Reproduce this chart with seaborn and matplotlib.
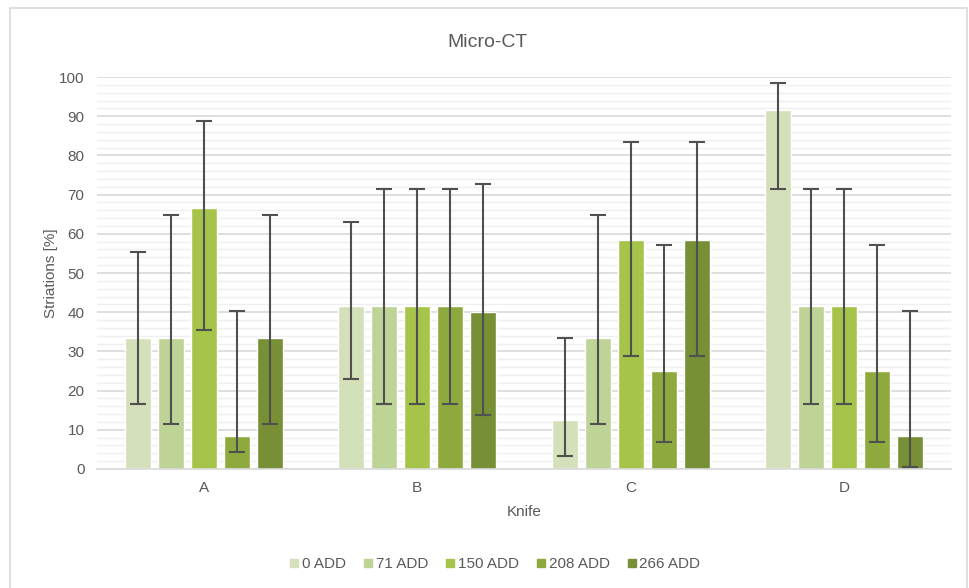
import matplotlib
matplotlib.use("Agg")
import matplotlib.pyplot as plt
import seaborn as sns
import pandas as pd
import numpy as np
from matplotlib.patches import Rectangle
from matplotlib.lines import Line2D

knives = ["A", "B", "C", "D"]
series = ["0 ADD", "71 ADD", "150 ADD", "208 ADD", "266 ADD"]
colors = ["#d4e0b9", "#bed396", "#a6c44a", "#8eaa3e", "#778f35"]

values = {
    "0 ADD":   [33.3, 41.7, 12.5, 91.7],
    "71 ADD":  [33.3, 41.7, 33.3, 41.7],
    "150 ADD": [66.7, 41.7, 58.3, 41.7],
    "208 ADD": [8.3, 41.7, 25.0, 25.0],
    "266 ADD": [33.3, 40.0, 58.3, 8.3],
}
lower = {
    "0 ADD":   [16.7, 22.9, 3.3, 71.4],
    "71 ADD":  [11.5, 16.6, 11.5, 16.6],
    "150 ADD": [35.4, 16.6, 28.9, 16.6],
    "208 ADD": [4.4, 16.6, 6.8, 6.8],
    "266 ADD": [11.5, 13.8, 28.9, 0.6],
}
upper = {
    "0 ADD":   [55.4, 63.1, 33.4, 98.5],
    "71 ADD":  [64.8, 71.4, 64.8, 71.4],
    "150 ADD": [88.7, 71.4, 83.5, 71.4],
    "208 ADD": [40.3, 71.4, 57.2, 57.2],
    "266 ADD": [64.8, 72.6, 83.5, 40.3],
}

rows = []
for s in series:
    for i, k in enumerate(knives):
        rows.append({"Knife": k, "Series": s, "Value": values[s][i],
                     "Lo": lower[s][i], "Hi": upper[s][i]})
df = pd.DataFrame(rows)

sns.set_theme(style="white")
plt.rcParams["font.family"] = ["Liberation Sans", "DejaVu Sans"]
text_color = "#595959"

fig = plt.figure(figsize=(9.69, 5.88), dpi=100)
ax = fig.add_axes([0.1001, 0.2024, 0.8813, 0.6666])

sns.barplot(data=df, x="Knife", y="Value", hue="Series", hue_order=series,
            order=knives, palette=colors, width=0.773, gap=0.21,
            errorbar=None, legend=False, ax=ax, saturation=1)

# error bars
for s, cont in zip(series, ax.containers):
    sub = df[df["Series"] == s].set_index("Knife").loc[knives]
    xs = [p.get_x() + p.get_width() / 2 for p in cont.patches]
    ys = sub["Value"].values
    yerr = np.vstack([ys - sub["Lo"].values, sub["Hi"].values - ys])
    ax.errorbar(xs, ys, yerr=yerr, fmt="none", ecolor="#505050",
                elinewidth=1.5, capsize=6, capthick=1.5, zorder=5)

ax.set_xlim(-0.5, 3.5)
ax.set_ylim(0, 100)
ax.set_yticks(np.arange(0, 101, 10))
ax.set_yticks(np.arange(0, 101, 2), minor=True)
ax.grid(axis="y", which="major", color="#d9d9d9", linewidth=1.2, zorder=0)
ax.grid(axis="y", which="minor", color="#efefef", linewidth=1.0, zorder=0)
ax.set_axisbelow(True)
for sp in ["top", "right", "left"]:
    ax.spines[sp].set_visible(False)
ax.spines["bottom"].set_color("#d9d9d9")
ax.spines["bottom"].set_linewidth(1.2)
ax.tick_params(axis="both", which="both", length=0, colors=text_color,
               labelsize=11)
ax.tick_params(axis="y", pad=9)
ax.tick_params(axis="x", pad=9)

ax.set_xlabel("Knife", color=text_color, fontsize=11, labelpad=7)
ax.set_ylabel("Striations [%]", color=text_color, fontsize=11, labelpad=1)
fig.text(0.503, 0.928, "Micro-CT", ha="center", va="center",
         color=text_color, fontsize=14)

handles = [Line2D([0], [0], marker="s", linestyle="none", markersize=5.5,
                  markerfacecolor=c, markeredgecolor=c) for c in colors]
fig.legend(handles, series, loc="center", bbox_to_anchor=(0.510, 0.04),
           ncol=5, frameon=False, fontsize=11, labelcolor=text_color,
           handletextpad=0.1, columnspacing=1.05, handlelength=0.8)

# outer chart border
fig.patches.append(Rectangle((0.0103, -0.01), 0.988, 0.997,
                             transform=fig.transFigure, fill=False,
                             edgecolor="#d9d9d9", linewidth=1.2))

fig.savefig("out.png", dpi=100, facecolor="white")
